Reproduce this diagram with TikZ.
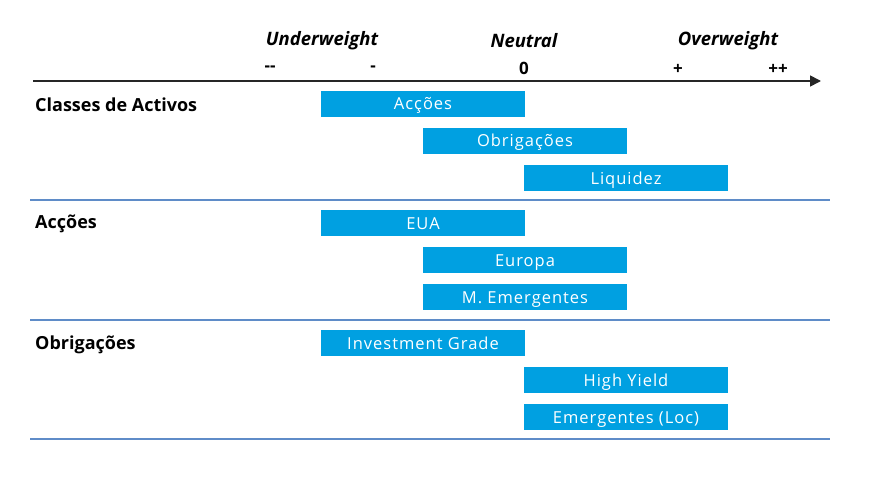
\documentclass[tikz,border=0pt]{standalone}
\usepackage{fontspec}
\setmainfont{Open Sans}
\usetikzlibrary{arrows.meta}
\definecolor{barblue}{RGB}{0,160,225}
\definecolor{sepblue}{RGB}{95,140,200}
\tikzset{
    bar/.style = {fill=barblue, text=white, minimum width=204pt, minimum height=26pt,
      inner sep=0pt, text height=15pt, text depth=3pt,
      font=\fontsize{16.5}{19}\selectfont\addfontfeatures{LetterSpace=6}},
    head/.style = {font=\fontsize{18.5}{21}\selectfont\bfseries\itshape},
    tick/.style = {font=\fontsize{17}{20}\selectfont\bfseries},
    section/.style = {anchor=west, inner sep=0pt, font=\fontsize{18}{21}\selectfont\bfseries},
    sep/.style = {draw=sepblue, line width=1.2pt}
}

\begin{document}
\begin{tikzpicture}[line cap=butt,line join=round,x=1pt,y=1pt]
    \useasboundingbox (0,0) rectangle (885,480);

    % scale
    \node[head] (under) at (322,439) {Underweight};
    \node[head] (neutral) at (524,439) {Neutral};
    \node[head] (over) at (728,439) {Overweight};
    \node[tick] (mm) at (270,411) {-{}-};
    \node[tick] (m) at (373,411) {-};
    \node[tick] (zero) at (524,412) {0};
    \node[tick] (p) at (678,411) {+};
    \node[tick] (pp) at (778,411) {++};
    \coordinate (axisL) at (33,399);
    \coordinate (axisR) at (821,399);
    \draw [-{Triangle[length=11pt,width=11pt]}, line width=1.6pt, draw=black!85] (axisL) -- (axisR);

    % classes de activos
    \node[section] (classes) at (35,375) {Classes de Activos};
    \node[bar] (accoes) at (423,376) {Acções};
    \node[bar] (obrig) at (525,339) {Obrigações};
    \node[bar] (liq) at (626,302) {Liquidez};
    \coordinate (s1L) at (30,280);
    \coordinate (s1R) at (830,280);
    \draw [sep] (s1L) -- (s1R);

    % accoes
    \node[section] (secacc) at (35,256) {Acções};
    \node[bar] (eua) at (423,257) {EUA};
    \node[bar] (europa) at (525,220) {Europa};
    \node[bar] (memerg) at (525,183) {M. Emergentes};
    \coordinate (s2L) at (30,160);
    \coordinate (s2R) at (830,160);
    \draw [sep] (s2L) -- (s2R);

    % obrigacoes
    \node[section] (secobr) at (35,135) {Obrigações};
    \node[bar] (ig) at (423,137) {Investment Grade};
    \node[bar] (hy) at (626,100) {High Yield};
    \node[bar] (emloc) at (626,63) {Emergentes (Loc)};
    \coordinate (s3L) at (30,41);
    \coordinate (s3R) at (830,41);
    \draw [sep] (s3L) -- (s3R);
\end{tikzpicture}
\end{document}
